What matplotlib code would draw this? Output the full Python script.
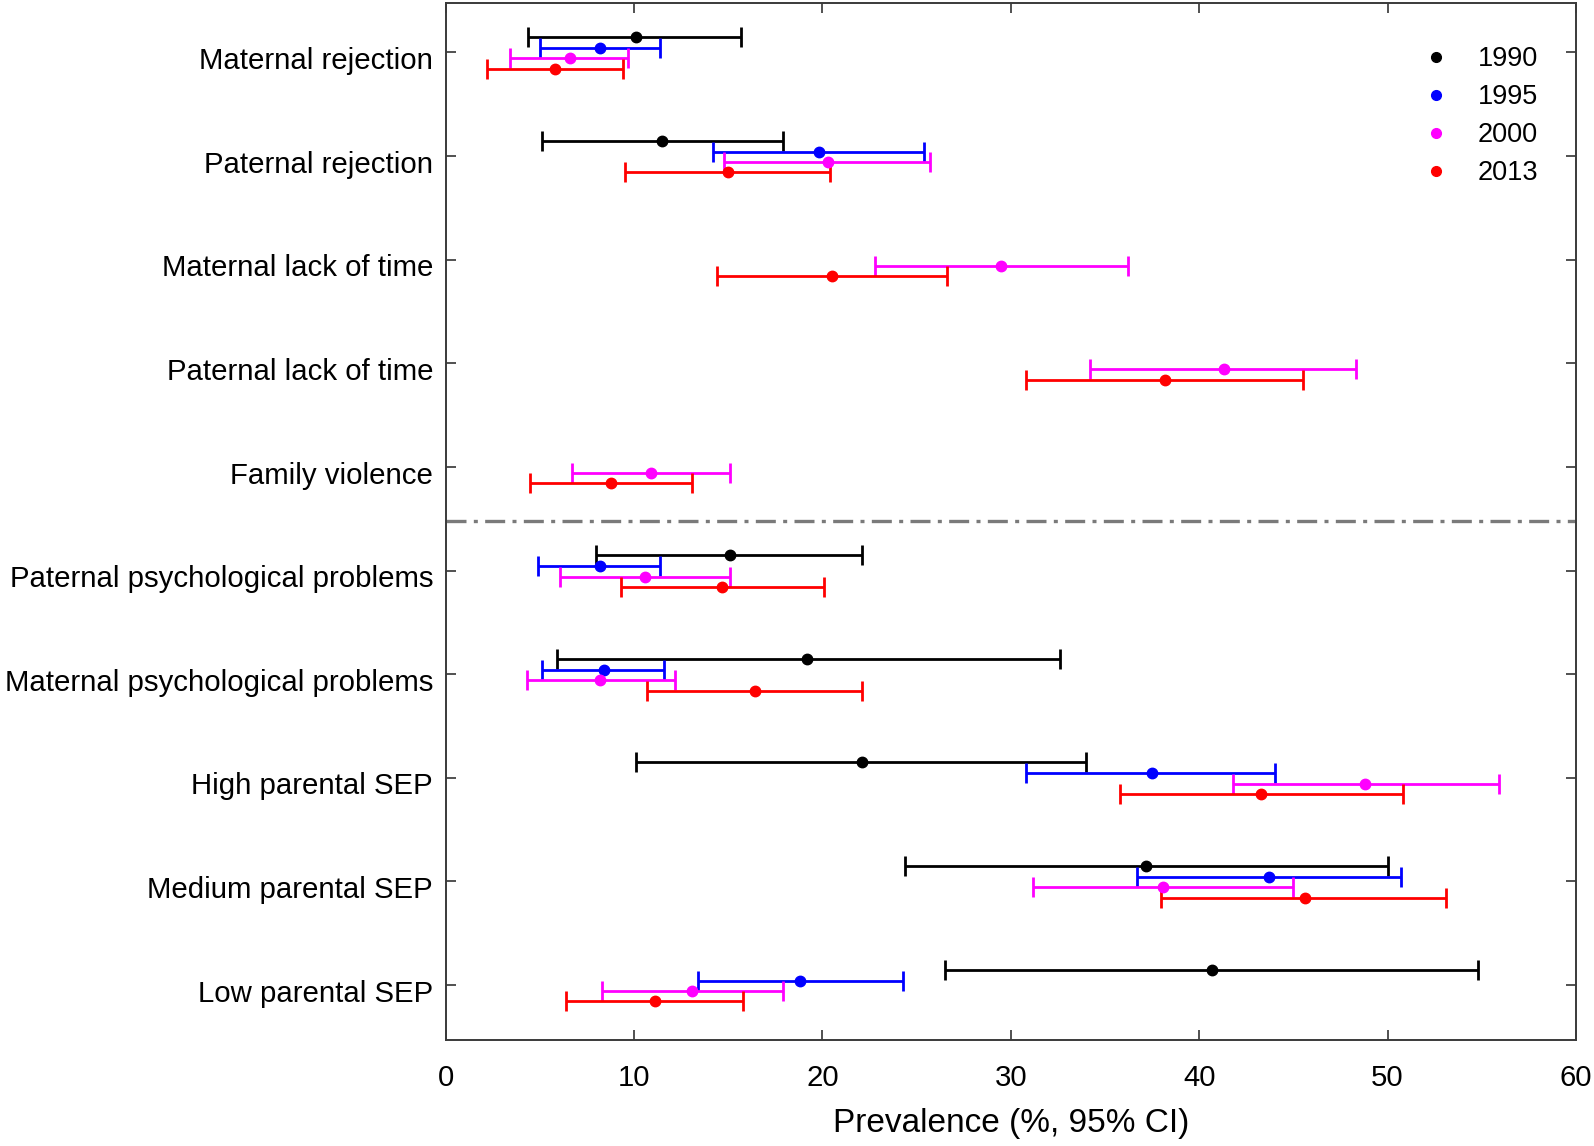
import matplotlib

matplotlib.use("Agg")
import matplotlib.pyplot as plt
import matplotlib.transforms as mtransforms
import numpy as np
from matplotlib.lines import Line2D

plt.rcParams["font.family"] = ["Liberation Sans", "DejaVu Sans"]

CATEGORIES = [
    "Maternal rejection",
    "Paternal rejection",
    "Maternal lack of time",
    "Paternal lack of time",
    "Family violence",
    "Paternal psychological problems",
    "Maternal psychological problems",
    "High parental SEP",
    "Medium parental SEP",
    "Low parental SEP",
]
YEARS = ["1990", "1995", "2000", "2013"]
nan = np.nan

# prevalence (%) and 95% CI bounds, one list per survey year
MEAN_1990 = [10.1, 11.5, nan, nan, nan, 15.1, 19.2, 22.1, 37.2, 40.7]
LO_1990 = [4.4, 5.1, nan, nan, nan, 8.0, 5.9, 10.1, 24.4, 26.5]
HI_1990 = [15.7, 17.9, nan, nan, nan, 22.1, 32.6, 34.0, 50.0, 54.8]

MEAN_1995 = [8.2, 19.8, nan, nan, nan, 8.2, 8.4, 37.5, 43.7, 18.8]
LO_1995 = [5.0, 14.2, nan, nan, nan, 4.9, 5.1, 30.8, 36.7, 13.4]
HI_1995 = [11.4, 25.4, nan, nan, nan, 11.4, 11.6, 44.0, 50.7, 24.3]

MEAN_2000 = [6.6, 20.3, 29.5, 41.3, 10.9, 10.6, 8.2, 48.8, 38.1, 13.1]
LO_2000 = [3.4, 14.8, 22.8, 34.2, 6.7, 6.1, 4.3, 41.8, 31.2, 8.3]
HI_2000 = [9.7, 25.7, 36.2, 48.3, 15.1, 15.1, 12.2, 55.9, 45.0, 17.9]

MEAN_2013 = [5.8, 15.0, 20.5, 38.2, 8.8, 14.7, 16.4, 43.3, 45.6, 11.1]
LO_2013 = [2.2, 9.5, 14.4, 30.8, 4.5, 9.3, 10.7, 35.8, 38.0, 6.4]
HI_2013 = [9.4, 20.4, 26.6, 45.5, 13.1, 20.1, 22.1, 50.8, 53.1, 15.8]

SERIES = [
    (MEAN_1990, LO_1990, HI_1990),
    (MEAN_1995, LO_1995, HI_1995),
    (MEAN_2000, LO_2000, HI_2000),
    (MEAN_2013, LO_2013, HI_2013),
]
COLORS = ["#000000", "#0000ff", "#ff00ff", "#ff0000"]
OFFSETS = [-0.148, -0.042, 0.058, 0.158]

fig = plt.figure(figsize=(15.94, 11.46), dpi=100)
ax = fig.add_axes([0.2795, 0.0925, 0.7092, 0.9051])

y = np.arange(1, len(CATEGORIES) + 1)
for (mean, lo, hi), color, off in zip(SERIES, COLORS, OFFSETS):
    m = np.array(mean)
    l = np.array(lo)
    h = np.array(hi)
    ok = ~np.isnan(m)
    ax.errorbar(
        m[ok], y[ok] + off,
        xerr=[m[ok] - l[ok], h[ok] - m[ok]],
        fmt="o", color=color, markersize=7.5,
        elinewidth=2.0, capsize=7.5, capthick=2.0,
    )

ax.axhline(5.52, color="#7a7a7a", linewidth=2.4, dashes=(6.0, 2.2, 1.2, 2.2))

ax.set_xlim(0, 60)
ax.set_ylim(10.53, 0.52)
ax.set_xticks(range(0, 61, 10))
ax.set_yticks(y)
ax.set_yticklabels(CATEGORIES)
ax.tick_params(axis="both", direction="in", length=7, width=1.2,
               colors="#333333", labelcolor="black", labelsize=21.2,
               top=True, right=True)
ax.tick_params(axis="y", pad=9)
ax.tick_params(axis="x", pad=17)
for sp in ax.spines.values():
    sp.set_color("#3a3a3a")
    sp.set_linewidth(1.4)
ax.set_xlabel("Prevalence (%, 95% CI)", fontsize=24, labelpad=12)

# labels sit a little below their ticks in the original
shift = mtransforms.ScaledTranslation(0, -4 / 72, fig.dpi_scale_trans)
for lab in ax.get_yticklabels():
    lab.set_transform(lab.get_transform() + shift)

handles = [
    Line2D([], [], marker="o", linestyle="none", color=c, markersize=7)
    for c in COLORS
]
ax.legend(handles, YEARS, loc="upper right", bbox_to_anchor=(0.9665, 0.958),
          frameon=False, fontsize=19.5, borderpad=0, borderaxespad=0,
          handlelength=1.0, handletextpad=1.05, labelspacing=0.44)

fig.savefig("out.png", dpi=100)
